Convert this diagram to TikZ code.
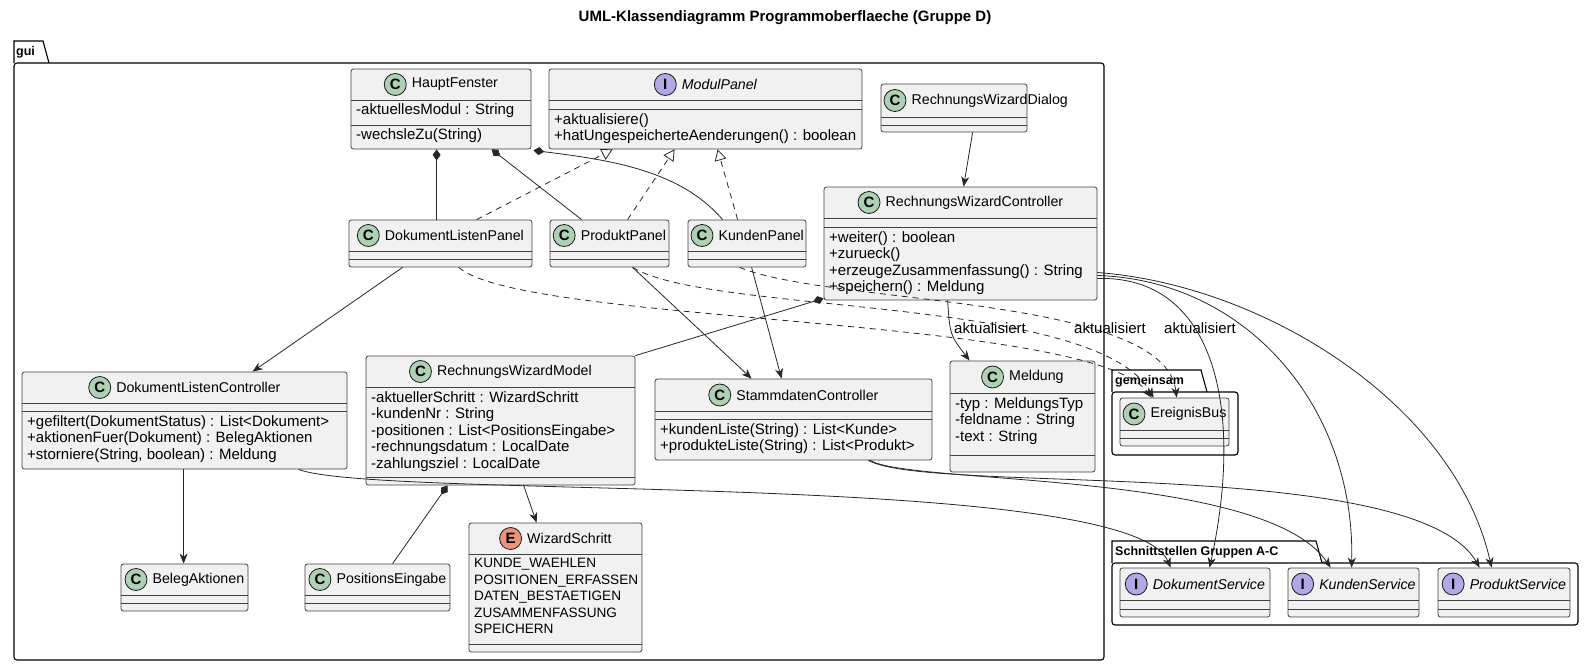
\documentclass[tikz,border=0pt]{standalone}
\usepackage{fontspec}
\setmainfont{Liberation Sans}
\usetikzlibrary{arrows.meta,positioning,calc}
\definecolor{boxfill}{HTML}{F1F1F1}
\definecolor{cgreen}{HTML}{ADD1B2}
\definecolor{ipurple}{HTML}{B4A7E5}
\definecolor{ered}{HTML}{EB937F}

\tikzset{
  cls/.style={draw=black!75,fill=boxfill,rounded corners=2.5pt,line width=0.8pt,inner sep=0pt},
  sep/.style={draw=black!75,line width=0.7pt},
  head/.style={font=\fontsize{14.2}{15}\selectfont,inner sep=0pt},
  mem/.style={font=\fontsize{15}{16.5}\selectfont,align=left,inner sep=0pt},
  enum/.style={font=\fontsize{13.6}{16.5}\selectfont,align=left,inner sep=0pt},
  icon/.style={circle,draw=black!90,line width=0.8pt,minimum size=22pt,inner sep=0pt,font=\fontsize{15}{15}\selectfont\bfseries},
  C/.style={icon,fill=cgreen},
  I/.style={icon,fill=ipurple},
  E/.style={icon,fill=ered},
  edge/.style={line width=0.8pt,draw=black!85},
  comp/.style={edge,{Diamond[length=11pt,width=8pt]}-},
  real/.style={edge,dashed,dash pattern=on 6pt off 5pt,-{Triangle[open,length=11pt,width=12pt,fill=white]}},
  dep/.style={edge,-{Stealth[length=10pt,width=8pt,inset=3pt]}},
  uses/.style={edge,dashed,dash pattern=on 6pt off 5pt,-{Stealth[length=10pt,width=8pt,inset=3pt]}},
  lbl/.style={font=\fontsize{15}{15}\selectfont,inner sep=1pt},
  pkg/.style={draw=black,line width=1.1pt},
  pkgname/.style={font=\fontsize{12.5}{13}\selectfont\bfseries,inner sep=1pt,anchor=north west}
}

% name, left, top, right, bottom, sep1, sep2, icon, title
\newcommand\umlclass[9]{%
  \node[cls,minimum width={(#4-#2)*1pt},minimum height={(#5-#3)*1pt}] (#1) at ({(#2+#4)/2},{(#3+#5)/2}) {};
  \draw[sep] (#2,#6) -- (#4,#6);
  \draw[sep] (#2,#7) -- (#4,#7);
  \path node[head] (#1-m) at (0,0) {\phantom{#9}};
  \path let \p1=(#1-m.west), \p2=(#1-m.east) in
    node[#8] (#1-i) at ({max(#2+14,(#2+#4)/2-((\x2-\x1)/1pt+27)/2+11)},{(#3+#6)/2}) {#8};
  \node[head,anchor=west,right=5pt of #1-i] (#1-t) {#9};
}
\newcommand\members[5][mem]{% style, left, y, text, name
  \node[#1,anchor=north west] (#5) at (#2+5,#3+4) {#4};
}

\begin{document}
\begin{tikzpicture}[x=1pt,y=-1pt]
  \useasboundingbox (0,0) rectangle (1584,666);

  \node[font=\fontsize{15}{15}\selectfont\bfseries] (title) at (785,18) {UML-Klassendiagramm Programmoberflaeche (Gruppe D)};

  % packages
  \draw[pkg] (14,63) -- (14,41) -- (43,41) -- (49,63);
  \draw[pkg,rounded corners=3pt] (14,63) rectangle (1104,660);
  \node[pkgname] (gui) at (15,45) {gui};
  \draw[pkg] (1112,392) -- (1112,370) -- (1201,370) -- (1207,392);
  \draw[pkg,rounded corners=3pt] (1112,392) rectangle (1238,455);
  \node[pkgname] (gemeinsam) at (1114,374) {gemeinsam};
  \draw[pkg] (1112,563) -- (1112,541) -- (1316,541) -- (1322,563);
  \draw[pkg,rounded corners=3pt] (1112,563) rectangle (1578,625);
  \node[pkgname] (schnitt) at (1114,545) {Schnittstellen Gruppen A-C};

  % classes
  \umlclass{hf}{351}{69}{531}{149}{100}{125}{C}{HauptFenster}
  \members{351}{99}{-aktuellesModul : String}{hfA}
  \members{351}{124}{-wechsleZu(String)}{hfM}
  \umlclass{mp}{549}{69}{862}{149}{100}{109}{I}{\itshape ModulPanel}
  \members{549}{109}{+aktualisiere()\\+hatUngespeicherteAenderungen() : boolean}{mpM}
  \umlclass{rwd}{881}{84}{1027}{132}{117}{125}{C}{RechnungsWizardDialog}
  \umlclass{rwc}{824}{187}{1097}{300}{218}{227}{C}{RechnungsWizardController}
  \members{824}{227}{+weiter() : boolean\\+zurueck()\\+erzeugeZusammenfassung() : String\\+speichern() : Meldung}{rwcM}
  \umlclass{dlp}{349}{220}{532}{267}{251}{259}{C}{DokumentListenPanel}
  \umlclass{pp}{550}{220}{669}{267}{251}{259}{C}{ProduktPanel}
  \umlclass{kp}{688}{220}{806}{267}{251}{259}{C}{KundenPanel}
  \umlclass{dlc}{22}{372}{347}{469}{403}{411}{C}{DokumentListenController}
  \members{22}{411}{+gefiltert(DokumentStatus) : List<Dokument>\\+aktionenFuer(Dokument) : BelegAktionen\\+storniere(String, boolean) : Meldung}{dlcM}
  \umlclass{rwm}{366}{356}{635}{485}{387}{477}{C}{RechnungsWizardModel}
  \members{366}{387}{-aktuellerSchritt : WizardSchritt\\-kundenNr : String\\-positionen : List<PositionsEingabe>\\-rechnungsdatum : LocalDate\\-zahlungsziel : LocalDate}{rwmA}
  \umlclass{sdc}{655}{379}{932}{460}{411}{419}{C}{StammdatenController}
  \members{655}{419}{+kundenListe(String) : List<Kunde>\\+produkteListe(String) : List<Produkt>}{sdcM}
  \umlclass{ml}{950}{361}{1095}{472}{393}{455}{C}{Meldung}
  \members{950}{393}{-typ : MeldungsTyp\\-feldname : String\\-text : String}{mlA}
  \umlclass{ba}{121}{564}{248}{611}{595}{603}{C}{BelegAktionen}
  \umlclass{pe}{305}{564}{450}{611}{595}{603}{C}{PositionsEingabe}
  \umlclass{ws}{469}{523}{642}{652}{554}{644}{E}{WizardSchritt}
  \members[enum]{469}{554}{KUNDE\_WAEHLEN\\POSITIONEN\_ERFASSEN\\DATEN\_BESTAETIGEN\\ZUSAMMENFASSUNG\\SPEICHERN}{wsA}
  \umlclass{eb}{1120}{398}{1229}{446}{430}{438}{C}{EreignisBus}
  \umlclass{ds}{1120}{568}{1270}{617}{600}{609}{I}{\itshape DokumentService}
  \umlclass{ks}{1288}{568}{1419}{617}{600}{609}{I}{\itshape KundenService}
  \umlclass{ps}{1438}{568}{1570}{617}{600}{609}{I}{\itshape ProduktService}

  % composition
  \draw[comp] ([xshift=86pt]hf.south west) -- ([xshift=88pt]dlp.north west);
  \draw[comp] ([xshift=141pt]hf.south west) -- ([xshift=32pt]pp.north west);
  \draw[comp] ([xshift=2pt,yshift=-1pt]hf.south east) .. controls (610,160) and (680,170) .. ([xshift=35pt]kp.north west);
  \draw[comp] ([yshift=2pt]rwc.south west) -- (rwm.north east);
  \draw[comp] ([xshift=82pt]rwm.south west) -- ([xshift=88pt]pe.north west);

  % realization
  \draw[real] ([xshift=128pt]dlp.north west) -- ([xshift=64pt]mp.south west);
  \draw[real] ([xshift=78pt]pp.north west) -- ([xshift=126pt]mp.south west);
  \draw[real] ([xshift=50pt]kp.north west) -- ([xshift=169pt]mp.south west);

  % associations
  \draw[dep] ([xshift=92pt]rwd.south west) -- ([xshift=140pt]rwc.north west);
  \draw[dep] ([xshift=54pt]dlp.south west) -- ([xshift=231pt]dlc.north west);
  \draw[dep] ([xshift=83pt]pp.south west) -- ([xshift=97pt]sdc.north west);
  \draw[dep] ([xshift=64pt]kp.south west) -- ([xshift=127pt]sdc.north west);
  \draw[dep] ([xshift=124pt]rwc.south west) .. controls (950,335) .. ([xshift=20pt]ml.north west);
  \draw[dep] ([xshift=162pt]dlc.south west) -- ([xshift=63pt]ba.north west);
  \draw[dep] ([xshift=158pt]rwm.south west) -- ([xshift=68pt]ws.north west);
  \draw[dep] ([xshift=-49pt]dlc.south east) .. controls (380,500) and (1130,470) .. ([xshift=51pt]ds.north west);
  \draw[dep] ([xshift=-62pt]sdc.south east) .. controls (910,485) and (1265,470) .. ([xshift=43pt]ks.north west);
  \draw[dep] ([xshift=-64pt]sdc.south east) .. controls (930,495) and (1415,455) .. ([xshift=42pt]ps.north west);
  \draw[dep] ([yshift=-35pt]rwc.east) .. controls (1213,275) and (1245,405) .. ([xshift=90pt]ds.north west);
  \draw[dep] ([yshift=-32pt]rwc.east) .. controls (1245,280) and (1355,405) .. ([xshift=64pt]ks.north west);
  \draw[dep] ([yshift=-29pt]rwc.east) .. controls (1265,285) and (1455,405) .. ([xshift=54pt]ps.north west);

  % events
  \draw[uses] ([xshift=110pt]dlp.south west) .. controls (525,325) and (1090,315) .. ([xshift=32pt]eb.north west);
  \draw[uses] ([xshift=83pt]pp.south west) .. controls (710,315) and (1095,295) .. ([xshift=34pt]eb.north west);
  \draw[uses] ([xshift=52pt]kp.south west) .. controls (830,305) and (1165,295) .. ([xshift=57pt]eb.north west);
  \node[lbl] (l1) at (990,328) {aktualisiert};
  \node[lbl] (l2) at (1110,328) {aktualisiert};
  \node[lbl] (l3) at (1200,328) {aktualisiert};
\end{tikzpicture}
\end{document}
